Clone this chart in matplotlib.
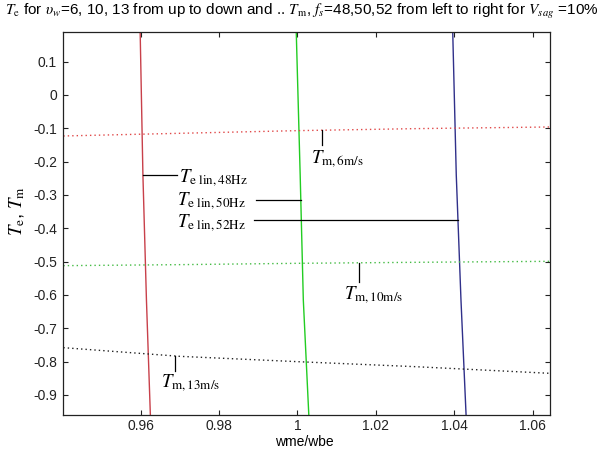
import numpy as np
import matplotlib
matplotlib.use('Agg')
import matplotlib.pyplot as plt

plt.rcParams['font.family'] = ['Liberation Sans', 'DejaVu Sans']
plt.rcParams['mathtext.fontset'] = 'stix'
plt.rcParams['axes.unicode_minus'] = False

# electrical torque, linearised, for fs = 48, 50, 52 Hz (x sampled along Te)
te_levels = [0.188, -0.24, -0.615, -0.96]
te_48hz = [0.9599, 0.9606, 0.9615, 0.9625]
te_50hz = [0.9997, 1.0007, 1.0015, 1.0029]
te_52hz = [1.0396, 1.0405, 1.0417, 1.0430]

# mechanical torque for vw = 6, 10, 13 m/s
wr = [0.9403, 0.970, 1.000, 1.030, 1.0644]
tm_6ms = [-0.123, -0.115, -0.107, -0.101, -0.096]
tm_10ms = [-0.512, -0.509, -0.505, -0.502, -0.499]
tm_13ms = [-0.758, -0.784, -0.800, -0.815, -0.835]

fig = plt.figure(figsize=(6.12, 4.54), dpi=100)
ax = fig.add_axes([63.3 / 612, 1 - 415 / 454, (550 - 63.3) / 612, (415 - 32.3) / 454])

ax.plot(te_48hz, te_levels, color='#c8404a', lw=1)
ax.plot(te_50hz, te_levels, color='#22cc22', lw=1)
ax.plot(te_52hz, te_levels, color='#30308a', lw=1)

ax.plot(wr, tm_6ms, color='#e04848', lw=1, ls=(0, (1, 2.2)))
ax.plot(wr, tm_10ms, color='#44bb44', lw=1, ls=(0, (1, 2.2)))
ax.plot(wr, tm_13ms, color='#222222', lw=1, ls=(0, (1, 2.2)))

lab = dict(fontsize=13.5, color='black', va='baseline', ha='left')

# pointers to the Te curves
def te_at(y, xs):
    return np.interp(-y, [-v for v in te_levels], xs)

y48, y50, y52 = -0.240, -0.316, -0.375
ax.plot([te_at(y48, te_48hz), 0.9692], [y48, y48], color='k', lw=0.9)
ax.plot([0.9895, te_at(y50, te_50hz)], [y50, y50], color='k', lw=0.9)
ax.plot([0.9890, te_at(y52, te_52hz)], [y52, y52], color='k', lw=0.9)
ax.text(0.9699, -0.262, r'$T_{\rm e\ lin,48Hz}$', **lab)
ax.text(0.9694, -0.331, r'$T_{\rm e\ lin,50Hz}$', **lab)
ax.text(0.9694, -0.399, r'$T_{\rm e\ lin,52Hz}$', **lab)

# pointers to the Tm curves
for xv, curve, ybot, xt, yt, txt in [
        (1.0063, tm_6ms, -0.150, 1.0035, -0.205, r'$T_{\rm m,6m/s}$'),
        (1.0157, tm_10ms, -0.561, 1.0118, -0.612, r'$T_{\rm m,10m/s}$'),
        (0.9689, tm_13ms, -0.829, 0.9653, -0.877, r'$T_{\rm m,13m/s}$')]:
    ax.plot([xv, xv], [np.interp(xv, wr, curve), ybot], color='k', lw=0.9)
    ax.text(xt, yt, txt, **lab)

ax.set_xlim(0.9403, 1.0644)
ax.set_ylim(-0.96, 0.188)
ax.set_xticks([0.96, 0.98, 1.0, 1.02, 1.04, 1.06])
ax.set_xticklabels(['0.96', '0.98', '1', '1.02', '1.04', '1.06'])
ax.set_yticks([0.1, 0, -0.1, -0.2, -0.3, -0.4, -0.5, -0.6, -0.7, -0.8, -0.9])
ax.set_yticklabels(['0.1', '0', '-0.1', '-0.2', '-0.3', '-0.4', '-0.5',
                    '-0.6', '-0.7', '-0.8', '-0.9'])
ax.tick_params(direction='in', length=3.6, width=0.8, top=True, right=True,
               labelsize=10, colors='#222222')
ax.tick_params(axis='x', pad=3)
ax.tick_params(axis='y', pad=4.5)
for sp in ax.spines.values():
    sp.set_linewidth(0.9)
    sp.set_color('#222222')

fig.text(5 / 612, 1 - 15 / 454,
         r'$T_{\rm e}$ for $\upsilon_w$=6, 10, 13 from up to down and .. '
         r'$T_{\rm m}$, $f_s$=48,50,52 from left to right for $V_{sag}$ =10%',
         fontsize=11, ha='left', va='baseline')
fig.text(17 / 612, 1 - 211 / 454, r'$T_{\rm e}$, $T_{\rm m}$', fontsize=13.5,
         rotation=90, ha='center', va='center')
fig.text(304 / 612, 1 - 442 / 454, 'wme/wbe', fontsize=10,
         ha='center', va='center')

fig.savefig('out.png', dpi=100)
